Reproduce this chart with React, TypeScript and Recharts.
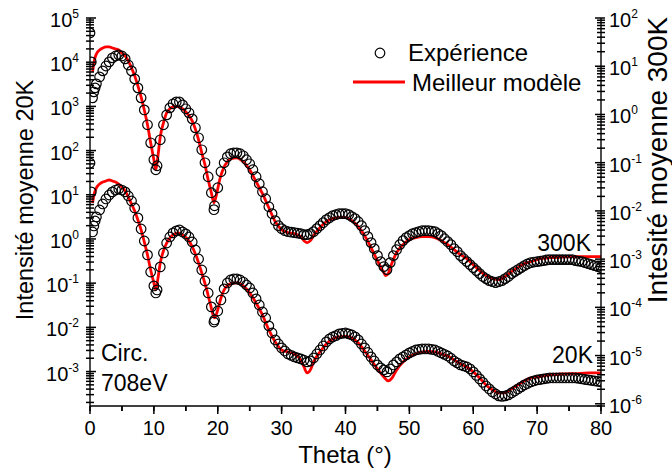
import React from "react";
import { ComposedChart, Legend, Line, Scatter, XAxis, YAxis } from "recharts";

const FONT = '"Liberation Sans", Arial, Helvetica, sans-serif';
const PLOT = { left: 90, right: 601, top: 18, bottom: 406 };

// angle grid of the measured points (deg)
const thetaExp = [
  0, 0.2, 0.4, 0.6, 0.8, 1, 1.5, 2, 2.5, 3, 3.5, 4, 4.5, 5, 5.5, 6, 6.5, 7, 7.5, 8, 8.5, 9, 9.5, 10, 10.3,
  10.5, 11, 11.5, 12, 12.5, 13, 13.5, 14, 14.5, 15, 15.5, 16, 16.5, 17, 17.5, 18, 18.5, 19, 19.4,
  19.5, 20, 20.5, 21, 21.5, 22, 22.5, 23, 23.5, 24, 24.5, 25, 25.5, 26, 26.5, 27, 27.5, 28, 28.5, 29, 29.5,
  30, 30.5, 31, 31.5, 32, 32.5, 33, 33.5, 34, 34.5, 35, 35.5, 36, 36.5, 37, 37.5, 38, 38.5, 39, 39.5,
  40, 40.5, 41, 41.5, 42, 42.5, 43, 43.5, 44, 44.5, 45, 45.5, 46, 46.5, 47, 47.5, 48, 48.5, 49, 49.5,
  50, 50.5, 51, 51.5, 52, 52.5, 53, 53.5, 54, 54.5, 55, 55.5, 56, 56.5, 57, 57.5, 58, 58.5, 59, 59.5,
  60, 60.5, 61, 61.5, 62, 62.5, 63, 63.5, 64, 64.5, 65, 65.5, 66, 66.5, 67, 67.5, 68, 68.5, 69, 69.5,
  70, 70.5, 71, 71.5, 72, 72.5, 73, 73.5, 74, 74.5, 75, 75.5, 76, 76.5, 77, 77.5, 78, 78.5, 79, 79.5, 80,
];

// 300K measurement (right axis)
const exp300 = [
  49, 12.3, 2.21, 2.94, 3.56, 4.31, 6.0, 8.0, 10.1, 12.3, 14.9, 16.3, 17.1, 16.3, 14.2, 10.6, 8.0, 5.46, 3.56, 2.21, 1.24, 0.61, 0.258, 0.115, 0.0713,
  0.0863, 0.298, 0.61, 0.98, 1.37, 1.66, 1.82, 1.82, 1.58, 1.31, 1.08, 0.81, 0.528, 0.328, 0.185, 0.0995, 0.0511, 0.0238, 0.0106,
  0.0128, 0.0302, 0.0648, 0.0995, 0.132, 0.153, 0.16, 0.16, 0.153, 0.139, 0.115, 0.0948, 0.0713, 0.0511, 0.0366, 0.025, 0.0179, 0.0122, 0.00875, 0.00627, 0.00494,
  0.00428, 0.00389, 0.00371, 0.00362, 0.00354, 0.00346, 0.00337, 0.00322, 0.00322, 0.00337, 0.00371, 0.00428, 0.00494, 0.0057, 0.00658, 0.00723, 0.00796, 0.00835, 0.00875, 0.00875,
  0.00875, 0.00835, 0.00759, 0.0069, 0.00597, 0.00494, 0.00389, 0.00292, 0.0022, 0.00165, 0.00118, 0.000887, 0.0007, 0.000607, 0.000847, 0.00118, 0.00157, 0.002, 0.00242, 0.00279,
  0.00307, 0.00337, 0.00354, 0.00371, 0.00389, 0.00389, 0.00389, 0.0038, 0.00371, 0.00337, 0.00307, 0.00265, 0.0023, 0.002, 0.00165, 0.00143, 0.00118, 0.00102, 0.000887, 0.000769,
  0.000667, 0.000578, 0.000501, 0.000435, 0.000394, 0.000359, 0.000342, 0.000326, 0.000342, 0.000359, 0.000394, 0.000435, 0.000501, 0.000551, 0.000607, 0.000667, 0.000733, 0.000795, 0.000847, 0.00087,
  0.000887, 0.00091, 0.000931, 0.00096, 0.000977, 0.000977, 0.000977, 0.000977, 0.000977, 0.000977, 0.000977, 0.000977, 0.000931, 0.00091, 0.000887, 0.000847, 0.000807, 0.000769, 0.000733, 0.0007, 0.000667,
];

// 20K measurement (left axis)
const exp20 = [
  52.4, 11.6, 1.44, 1.97, 2.55, 3.15, 4.53, 6.19, 8.04, 9.89, 11.6, 12.8, 13.5, 12.8, 11.6, 9.4, 7.24, 5.03, 2.99, 1.68, 0.9, 0.435, 0.179, 0.0865, 0.06,
  0.0702, 0.233, 0.482, 0.81, 1.11, 1.37, 1.52, 1.6, 1.44, 1.3, 1.11, 0.855, 0.564, 0.353, 0.199, 0.112, 0.06, 0.029, 0.0132,
  0.0147, 0.0235, 0.0417, 0.074, 0.101, 0.118, 0.124, 0.124, 0.118, 0.106, 0.091, 0.0778, 0.06, 0.044, 0.0321, 0.0223, 0.0163, 0.0108, 0.00746, 0.00519, 0.00421,
  0.00342, 0.00292, 0.0025, 0.00232, 0.00214, 0.00204, 0.00193, 0.0018, 0.00165, 0.00173, 0.00203, 0.0025, 0.00308, 0.00379, 0.00468, 0.00547, 0.00607, 0.0065, 0.0071, 0.0073,
  0.00746, 0.0071, 0.00673, 0.00607, 0.00519, 0.00421, 0.00342, 0.0027, 0.00214, 0.00173, 0.00141, 0.00121, 0.00109, 0.00098, 0.00115, 0.00141, 0.00165, 0.00193, 0.00214, 0.00238,
  0.00264, 0.00285, 0.00308, 0.00316, 0.00324, 0.00324, 0.00324, 0.00316, 0.00308, 0.00285, 0.00264, 0.00245, 0.00225, 0.002, 0.00173, 0.00157, 0.00141, 0.00134, 0.00127, 0.00115,
  0.00098, 0.000817, 0.000681, 0.000569, 0.000472, 0.000404, 0.000345, 0.000311, 0.000281, 0.000274, 0.000281, 0.000296, 0.000328, 0.000363, 0.000404, 0.000449, 0.000498, 0.000536, 0.000582, 0.000613,
  0.000646, 0.00066, 0.000681, 0.0007, 0.000716, 0.000716, 0.000716, 0.000716, 0.000716, 0.000716, 0.000716, 0.000716, 0.000716, 0.0007, 0.000681, 0.00066, 0.000646, 0.00063, 0.000613, 0.0006, 0.000582,
];

// best model, 300K
const thetaFit300 = [
  0.4, 0.7, 1, 1.5, 2, 2.5, 3, 3.5, 4, 4.5, 5, 5.5, 6, 6.5, 7, 7.5, 8, 8.5, 9, 9.5,
  10, 10.3, 10.6, 11, 11.5, 12, 12.5, 13, 13.5, 14, 15, 16, 17, 17.5, 18, 18.5, 19, 19.4, 19.8, 20.3,
  21, 21.5, 22, 23, 24, 25, 26, 27, 28, 29, 30, 31, 32, 33, 33.5, 34, 34.5, 35, 36, 37,
  38, 39, 40, 41, 42, 43, 44, 45, 46, 46.3, 46.7, 47, 48, 49, 50, 51, 52, 53, 54, 55,
  56, 57, 58, 59, 60, 61, 62, 63, 64, 65, 66, 67, 68, 69, 70, 72, 74, 76, 78, 80,
];
const fit300 = [
  7.62, 13.5, 18.0, 21.7, 23.9, 25.1, 25.1, 23.9, 22.8, 21.7, 18.8, 16.3, 12.9, 9.22, 6.3, 3.91, 2.31, 1.24, 0.61, 0.258,
  0.115, 0.0713, 0.126, 0.344, 0.67, 1.08, 1.31, 1.44, 1.47, 1.44, 1.13, 0.737, 0.298, 0.16, 0.0905, 0.0443, 0.0238, 0.0148, 0.0216, 0.0443,
  0.0822, 0.104, 0.12, 0.126, 0.104, 0.0713, 0.0403, 0.0227, 0.0116, 0.00597, 0.00408, 0.00354, 0.00337, 0.00292, 0.00242, 0.0022, 0.00242, 0.00307, 0.00449, 0.00597,
  0.0069, 0.00723, 0.00723, 0.00627, 0.00471, 0.00307, 0.00173, 0.000931, 0.000525, 0.000455, 0.000501, 0.000667, 0.00136, 0.002, 0.00254, 0.00279, 0.00292, 0.00292, 0.00279, 0.00242,
  0.002, 0.00157, 0.00124, 0.00102, 0.000769, 0.000578, 0.000455, 0.000394, 0.000377, 0.000435, 0.000551, 0.000667, 0.000807, 0.000887, 0.000977, 0.00107, 0.0011, 0.00113, 0.00113, 0.00113,
];

// best model, 20K
const thetaFit20 = [
  0.4, 0.7, 1, 1.5, 2, 2.5, 3, 3.5, 4, 4.5, 5, 5.5, 6, 6.5, 7, 7.5, 8, 8.5, 9, 9.5,
  10, 10.3, 10.6, 11, 11.5, 12, 12.5, 13, 13.8, 14.5, 15.5, 16.5, 17.5, 18.2, 18.8, 19.5, 20, 20.5, 21, 22,
  23, 24, 25, 26, 27, 28, 29, 30, 31, 32, 33, 33.5, 34, 34.5, 35, 36, 37, 38, 39, 40,
  41, 42, 43, 44, 45, 46, 46.7, 47.3, 48, 49, 50, 51, 52, 53, 54, 55, 56, 57, 58, 59,
  60, 61, 62, 63, 64, 64.7, 65.5, 66, 67, 68, 69, 70, 72, 74, 76, 78, 80,
];
const fit20 = [
  6.52, 11.0, 14.3, 17.5, 19.5, 20.5, 21.6, 20.5, 19.5, 17.5, 15.0, 12.2, 8.91, 6.19, 4.3, 2.69, 1.6, 0.855, 0.435, 0.199,
  0.101, 0.0702, 0.118, 0.286, 0.536, 0.81, 1.05, 1.23, 1.37, 1.23, 0.9, 0.458, 0.17, 0.0778, 0.0356, 0.0163, 0.0248, 0.0462, 0.0702, 0.0959,
  0.101, 0.0865, 0.06, 0.0356, 0.0191, 0.00873, 0.00468, 0.00308, 0.00277, 0.0025, 0.00183, 0.00127, 0.000929, 0.00109, 0.00165, 0.00277, 0.00421, 0.00547, 0.00607, 0.00622,
  0.00575, 0.00444, 0.00292, 0.00183, 0.00115, 0.000755, 0.000612, 0.000716, 0.00109, 0.00165, 0.00214, 0.0025, 0.00277, 0.00285, 0.00277, 0.0025, 0.00225, 0.00183, 0.00149, 0.00127,
  0.00098, 0.000716, 0.000498, 0.000384, 0.000328, 0.000328, 0.000363, 0.000404, 0.000498, 0.000612, 0.000716, 0.000755, 0.000838, 0.00088, 0.0009, 0.000929, 0.000929,
];

// axes
const xTicks = [0, 5, 10, 15, 20, 25, 30, 35, 40, 45, 50, 55, 60, 65, 70, 75, 80];
const leftDecades = [1e-4, 1e-3, 1e-2, 1e-1, 1, 10, 100, 1e3, 1e4, 1e5];
const rightDecades = [1e-7, 1e-6, 1e-5, 1e-4, 1e-3, 1e-2, 1e-1, 1, 10, 100];
const minorSteps = [1, 2, 3, 4, 5, 6, 7, 8, 9];
const leftDomain = [1.66e-4, 1e5];
const rightDomain = [9e-7, 100];

const withMinor = (decades: number[], domain: number[]) =>
  decades
    .flatMap((d) => minorSteps.map((m) => +(d * m).toPrecision(3)))
    .filter((v) => v >= domain[0] && v <= domain[1]);

const pts = (xs: number[], ys: number[]) => xs.map((t, i) => ({ theta: t, v: ys[i] }));

const isDecade = (v: number) => {
  const lg = Math.log10(v);
  return Math.abs(lg - Math.round(lg)) < 1e-6;
};

const tickStroke = { stroke: "#000", strokeWidth: 1.5 };

function BottomTick({ x, payload }: any) {
  const major = payload.value % 10 === 0;
  return (
    <g>
      <line x1={x} x2={x} y1={PLOT.bottom} y2={PLOT.bottom + (major ? 8 : 5)} stroke="#000" strokeWidth={1.5} />
      {major && (
        <text x={x} y={PLOT.bottom + 29} textAnchor="middle" fontSize={20} fontFamily={FONT} fill="#000">
          {payload.value}
        </text>
      )}
    </g>
  );
}

function TopTick({ x, payload }: any) {
  const major = payload.value % 10 === 0;
  return <line x1={x} x2={x} y1={PLOT.top} y2={PLOT.top + (major ? 7 : 5)} stroke="#000" strokeWidth={1.5} />;
}

// inner half of the y ticks; the outer half is the axis' own tickLine
function LeftTick({ y, payload }: any) {
  const major = isDecade(payload.value);
  const exp = Math.round(Math.log10(payload.value));
  return (
    <g>
      <line x1={PLOT.left} x2={PLOT.left + (major ? 6 : 4)} y1={y} y2={y} stroke="#000" strokeWidth={1.5} />
      {major && (
        <text x={PLOT.left - 11} y={y + 9} textAnchor="end" fontSize={20} fontFamily={FONT} fill="#000">
          10
          <tspan dy={-9} fontSize={12}>
            {exp}
          </tspan>
        </text>
      )}
    </g>
  );
}

function RightTick({ y, payload }: any) {
  const major = isDecade(payload.value);
  const exp = Math.round(Math.log10(payload.value));
  return (
    <g>
      <line x1={PLOT.right - (major ? 6 : 4)} x2={PLOT.right} y1={y} y2={y} stroke="#000" strokeWidth={1.5} />
      {major && (
        <text x={PLOT.right + 8} y={y + 9} textAnchor="start" fontSize={20} fontFamily={FONT} fill="#000">
          10
          <tspan dy={-9} fontSize={12}>
            {exp}
          </tspan>
        </text>
      )}
    </g>
  );
}

const Ring = (p: any) => <circle cx={p.cx} cy={p.cy} r={4.8} fill="none" stroke="#000" strokeWidth={1.2} />;

function LegendBox() {
  return (
    <svg width={260} height={70} style={{ display: "block" }} fontFamily={FONT}>
      <circle cx={35} cy={23} r={4.8} fill="none" stroke="#000" strokeWidth={1.2} />
      <text x={63} y={31} fontSize={24} fill="#000">
        Expérience
      </text>
      <line x1={8} x2={60} y1={52} y2={52} stroke="#ff0000" strokeWidth={3} />
      <text x={67} y={61} fontSize={24} fill="#000">
        Meilleur modèle
      </text>
    </svg>
  );
}

export default function App() {
  const axisLine = { stroke: "#000", strokeWidth: 1.4 };
  return (
    <div style={{ position: "absolute", left: 0, top: 0, width: 672, height: 468, background: "#fff" }}>
      <ComposedChart width={672} height={468} margin={{ top: 18, right: 21, bottom: 22, left: 30 }}>
        <XAxis
          xAxisId="b"
          type="number"
          dataKey="theta"
          domain={[0, 80]}
          ticks={xTicks}
          interval={0}
          tick={<BottomTick />}
          tickLine={tickStroke}
          tickSize={5}
          axisLine={axisLine}
          height={40}
          allowDataOverflow
        />
        <XAxis
          xAxisId="t"
          orientation="top"
          type="number"
          dataKey="theta"
          domain={[0, 80]}
          ticks={xTicks}
          interval={0}
          tick={<TopTick />}
          tickLine={false}
          axisLine={axisLine}
          height={0}
          allowDataOverflow
        />
        <YAxis
          yAxisId="l"
          scale="log"
          type="number"
          domain={leftDomain}
          ticks={withMinor(leftDecades, leftDomain)}
          interval={0}
          tick={<LeftTick />}
          tickLine={tickStroke}
          tickSize={4}
          axisLine={axisLine}
          width={60}
          allowDataOverflow
        />
        <YAxis
          yAxisId="r"
          orientation="right"
          scale="log"
          type="number"
          domain={rightDomain}
          ticks={withMinor(rightDecades, rightDomain)}
          interval={0}
          tick={<RightTick />}
          tickLine={tickStroke}
          tickSize={4}
          axisLine={axisLine}
          width={50}
          allowDataOverflow
        />
        <Legend
          layout="vertical"
          align="center"
          verticalAlign="middle"
          width={260}
          height={70}
          wrapperStyle={{ left: 345, top: 30 }}
          content={() => <LegendBox />}
        />
        <Scatter
          name="Expérience 300K"
          data={pts(thetaExp, exp300)}
          dataKey="v"
          xAxisId="b"
          yAxisId="r"
          shape={Ring}
          isAnimationActive={false}
        />
        <Scatter
          name="Expérience 20K"
          data={pts(thetaExp, exp20)}
          dataKey="v"
          xAxisId="b"
          yAxisId="l"
          shape={Ring}
          isAnimationActive={false}
        />
        <Line
          name="Meilleur modèle 300K"
          data={pts(thetaFit300, fit300)}
          dataKey="v"
          xAxisId="b"
          yAxisId="r"
          type="monotone"
          stroke="#ff0000"
          strokeWidth={2.8}
          dot={false}
          isAnimationActive={false}
        />
        <Line
          name="Meilleur modèle 20K"
          data={pts(thetaFit20, fit20)}
          dataKey="v"
          xAxisId="b"
          yAxisId="l"
          type="monotone"
          stroke="#ff0000"
          strokeWidth={2.8}
          dot={false}
          isAnimationActive={false}
        />
      </ComposedChart>
      <svg
        width={672}
        height={468}
        style={{ position: "absolute", left: 0, top: 0, pointerEvents: "none" }}
        fontFamily={FONT}
        fill="#000"
      >
        <text x={345} y={463} textAnchor="middle" fontSize={24}>
          Theta (°)
        </text>
        <text x={33} y={200} textAnchor="middle" fontSize={23.5} transform="rotate(-90 33 200)">
          Intensité moyenne 20K
        </text>
        <text x={667} y={160} textAnchor="middle" fontSize={28} transform="rotate(-90 667 160)">
          Intesité moyenne 300K
        </text>
        <text x={101} y={361} fontSize={23}>
          Circ.
        </text>
        <text x={101} y={391} fontSize={23}>
          708eV
        </text>
        <text x={591} y={251} textAnchor="end" fontSize={23}>
          300K
        </text>
        <text x={593} y={363} textAnchor="end" fontSize={23}>
          20K
        </text>
      </svg>
    </div>
  );
}
